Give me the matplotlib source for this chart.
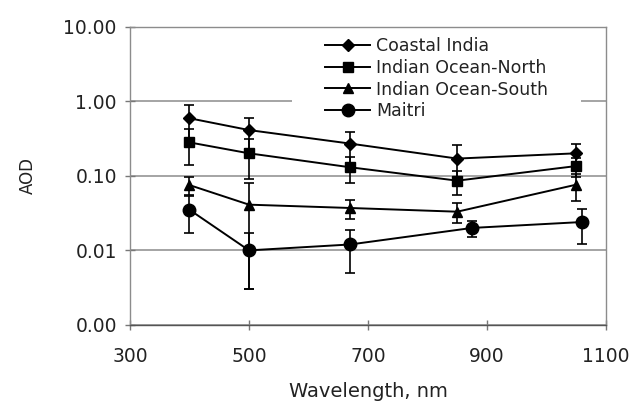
import numpy as np
import matplotlib.pyplot as plt
from matplotlib.ticker import FixedLocator, NullLocator

plt.rcParams["font.family"] = ["DejaVu Sans"]

# AOD spectra per region (wavelength in nm)
wl_ship = [400, 500, 670, 850, 1050]
wl_maitri = [400, 500, 670, 875, 1060]

coastal_india = [0.59, 0.41, 0.27, 0.17, 0.20]
coastal_err = [0.29, 0.18, 0.12, 0.09, 0.07]

io_north = [0.28, 0.20, 0.13, 0.086, 0.135]
io_north_err = [0.14, 0.11, 0.05, 0.03, 0.04]

io_south = [0.075, 0.041, 0.037, 0.033, 0.076]
io_south_err = [0.020, 0.038, 0.011, 0.010, 0.030]

maitri = [0.035, 0.010, 0.012, 0.020, 0.024]
maitri_err = [0.018, 0.007, 0.007, 0.005, 0.012]

names = ["Coastal India", "Indian Ocean-North", "Indian Ocean-South", "Maitri"]
series = [
    (wl_ship, coastal_india, coastal_err, "D", 6.5),
    (wl_ship, io_north, io_north_err, "s", 6.5),
    (wl_ship, io_south, io_south_err, "^", 7.5),
    (wl_maitri, maitri, maitri_err, "o", 9),
]

yticks = [0.001, 0.01, 0.1, 1, 10]
ytick_labels = ["0.00", "0.01", "0.10", "1.00", "10.00"]
xticks = [300, 500, 700, 900, 1100]

fig = plt.figure(figsize=(6.36, 4.15), dpi=100)
ax = fig.add_axes([0.2044, 0.2169, 0.7484, 0.7191])

handles = []
for x, y, err, mk, ms in series:
    c = ax.errorbar(x, y, yerr=err, color="black", lw=1.4, marker=mk, ms=ms,
                    capsize=3.5, capthick=1.2, elinewidth=1.2, zorder=3)
    handles.append(c.lines[0])

ax.set_yscale("log")
ax.set_ylim(0.001, 10)
ax.set_xlim(300, 1100)
ax.yaxis.set_major_locator(FixedLocator(yticks))
ax.yaxis.set_minor_locator(NullLocator())
ax.set_yticklabels(ytick_labels)
ax.set_xticks(xticks)

ax.grid(axis="y", color="#8c8c8c", lw=1.1)
ax.set_axisbelow(True)
for s in ax.spines.values():
    s.set_color("#8c8c8c")
    s.set_linewidth(1.0)
ax.spines["bottom"].set_color("#555555")

ax.tick_params(axis="both", direction="inout", length=7, width=1,
               color="#777777", labelsize=13.5, labelcolor="#222222")
ax.tick_params(axis="y", pad=6)
ax.tick_params(axis="x", pad=12)

ax.set_xlabel("Wavelength, nm", fontsize=14, color="#222222", labelpad=12)
ax.set_ylabel("AOD", fontsize=12, color="#222222", labelpad=19)

# legend box sits under the data lines but hides the 1.00 gridline
leg = ax.legend(handles, names, loc="upper left",
                bbox_to_anchor=(292 / 636, 0.9906),
                bbox_transform=fig.transFigure, frameon=True,
                fontsize=12.5, handlelength=2.6, handletextpad=0.35,
                labelspacing=0.22, borderpad=1.9, borderaxespad=0,
                fancybox=False)
leg.get_frame().set_edgecolor("none")
leg.get_frame().set_facecolor("white")
leg.get_frame().set_alpha(1)
leg.set_zorder(1.5)
for t in leg.get_texts():
    t.set_color("#222222")

plt.savefig("out.png", dpi=100)
